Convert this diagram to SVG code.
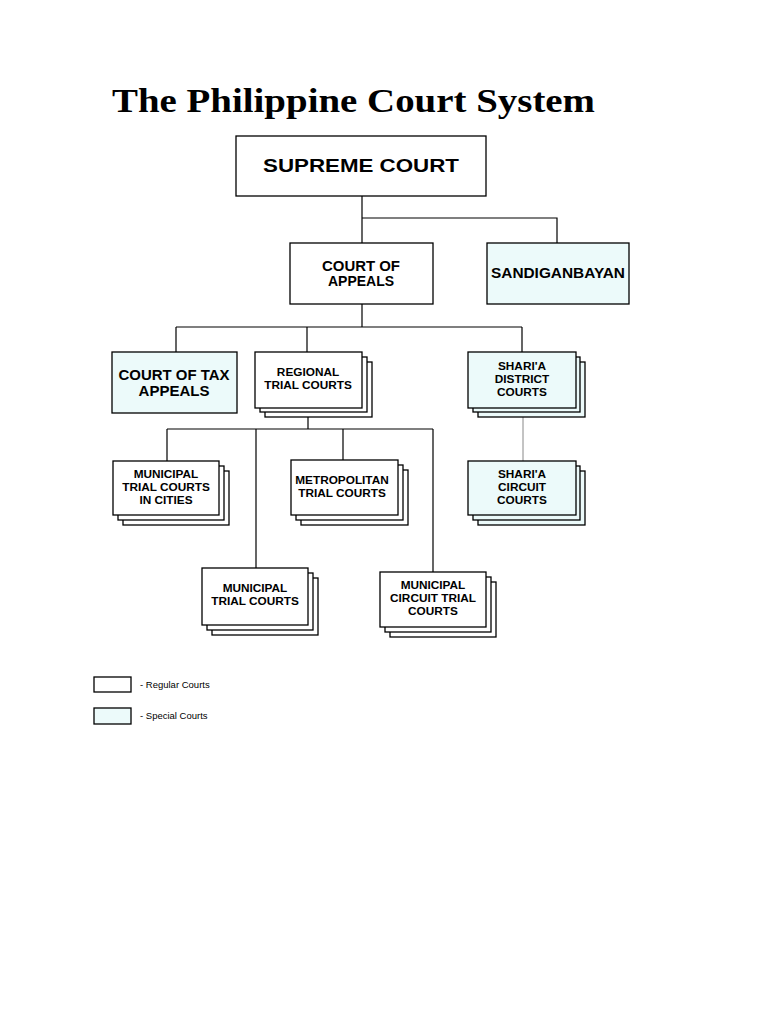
<svg xmlns="http://www.w3.org/2000/svg" width="768" height="1024" viewBox="0 0 768 1024">
<style>
.bx{fill:#ffffff;stroke:#000;stroke-width:1.3}
.sp{fill:#ecfafa;stroke:#000;stroke-width:1.3}
.ln{stroke:#000;stroke-width:1.2;fill:none}
.gl{stroke:#888;stroke-width:1;fill:none}
.t{font-family:"Liberation Sans",Arial,sans-serif;font-weight:bold;text-anchor:middle;fill:#000}
.s{font-size:11.8px}
.lg{font-family:"Liberation Sans",Arial,sans-serif;font-size:9.5px;fill:#000}
</style>
<rect width="768" height="1024" fill="#fff"/>
<text x="112" y="112" font-family="'Liberation Serif','Times New Roman',serif" font-weight="bold" font-size="34" textLength="483" lengthAdjust="spacingAndGlyphs">The Philippine Court System</text>

<g id="connectors">
<path class="ln" d="M362 196V243M362 218H557V243"/>
<path class="ln" d="M362 304V327M176 327H522M176 327V352M307 327V352M522 327V352"/>
<path class="ln" d="M308 408V429M167 429H433M167 429V461M256 429V568M343 429V460M433 429V572"/>
<path class="gl" d="M523 408V461"/>
</g>

<g id="supreme">
<rect class="bx" x="236" y="136" width="250" height="60"/>
<text class="t" x="361" y="172" font-size="18" textLength="196" lengthAdjust="spacingAndGlyphs">SUPREME COURT</text>
</g>
<g id="appeals">
<rect class="bx" x="290" y="243" width="143" height="61"/>
<text class="t" x="361" y="271" font-size="14" textLength="78" lengthAdjust="spacingAndGlyphs">COURT OF</text>
<text class="t" x="361" y="286" font-size="14">APPEALS</text>
</g>
<g id="sandiganbayan">
<rect class="sp" x="487" y="243" width="142" height="61"/>
<text class="t" x="558" y="278" font-size="14" textLength="134" lengthAdjust="spacingAndGlyphs">SANDIGANBAYAN</text>
</g>
<g id="cta">
<rect class="sp" x="112" y="352" width="125" height="61"/>
<text class="t" x="174" y="380" font-size="15" textLength="111" lengthAdjust="spacingAndGlyphs">COURT OF TAX</text>
<text class="t" x="174" y="396" font-size="15">APPEALS</text>
</g>
<g id="rtc">
<rect class="bx" x="265" y="362" width="107" height="55"/>
<rect class="bx" x="260" y="357" width="107" height="55"/>
<rect class="bx" x="255" y="352" width="107" height="56"/>
<text class="t s" x="308" y="376">REGIONAL</text>
<text class="t s" x="308" y="389">TRIAL COURTS</text>
</g>
<g id="sdc">
<rect class="sp" x="478" y="362" width="107" height="55"/>
<rect class="sp" x="473" y="357" width="107" height="55"/>
<rect class="sp" x="468" y="352" width="108" height="56"/>
<text class="t s" x="522" y="370">SHARI'A</text>
<text class="t s" x="522" y="383">DISTRICT</text>
<text class="t s" x="522" y="396">COURTS</text>
</g>
<g id="mtcc">
<rect class="bx" x="123" y="471" width="106" height="54"/>
<rect class="bx" x="118" y="466" width="106" height="54"/>
<rect class="bx" x="113" y="461" width="106" height="54"/>
<text class="t s" x="166" y="478">MUNICIPAL</text>
<text class="t s" x="166" y="491">TRIAL COURTS</text>
<text class="t s" x="166" y="504">IN CITIES</text>
</g>
<g id="metc">
<rect class="bx" x="301" y="470" width="107" height="55"/>
<rect class="bx" x="296" y="465" width="107" height="55"/>
<rect class="bx" x="291" y="460" width="107" height="55"/>
<text class="t s" x="342" y="484">METROPOLITAN</text>
<text class="t s" x="342" y="497">TRIAL COURTS</text>
</g>
<g id="scc">
<rect class="sp" x="478" y="471" width="107" height="54"/>
<rect class="sp" x="473" y="466" width="107" height="54"/>
<rect class="sp" x="468" y="461" width="108" height="54"/>
<text class="t s" x="522" y="478">SHARI'A</text>
<text class="t s" x="522" y="491">CIRCUIT</text>
<text class="t s" x="522" y="504">COURTS</text>
</g>
<g id="mtc">
<rect class="bx" x="212" y="578" width="106" height="57"/>
<rect class="bx" x="207" y="573" width="106" height="57"/>
<rect class="bx" x="202" y="568" width="106" height="57"/>
<text class="t s" x="255" y="592">MUNICIPAL</text>
<text class="t s" x="255" y="605">TRIAL COURTS</text>
</g>
<g id="mctc">
<rect class="bx" x="390" y="582" width="106" height="55"/>
<rect class="bx" x="385" y="577" width="106" height="55"/>
<rect class="bx" x="380" y="572" width="106" height="55"/>
<text class="t s" x="433" y="589">MUNICIPAL</text>
<text class="t s" x="433" y="602">CIRCUIT TRIAL</text>
<text class="t s" x="433" y="615">COURTS</text>
</g>
<g id="legend">
<rect class="bx" x="94" y="677" width="37" height="15" stroke-width="1"/>
<text class="lg" x="140" y="688">- Regular Courts</text>
<rect class="sp" x="94" y="708" width="37" height="16" stroke-width="1"/>
<text class="lg" x="140" y="719">- Special Courts</text>
</g>
</svg>
